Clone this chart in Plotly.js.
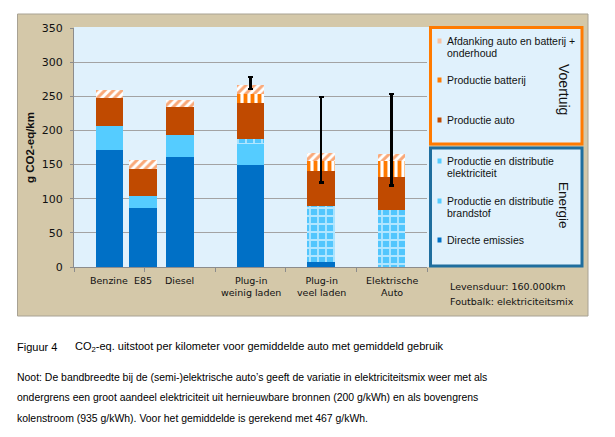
<!DOCTYPE html>
<html>
<head>
<meta charset="utf-8">
<script src="https://cdn.plot.ly/plotly-3.0.1.min.js"></script>
<style>html,body{margin:0;padding:0;background:#fff}#chart{width:615px;height:437px}</style>
</head>
<body>
<div id="chart"></div>
<script>
// ---------- DATA (g CO2-eq/km) ----------
const categories = ['Benzine', 'E85', 'Diesel', 'Plug-in<br>weinig laden', 'Plug-in<br>veel laden', 'Elektrische<br>Auto'];
const directeEmissies      = [172, 86, 161, 150, 8, 0];
const brandstof            = [35, 18, 32, 30, 0, 0];
const elektriciteit        = [0, 0, 0, 8, 82, 84];
const productieAuto        = [40, 40, 41, 52, 50, 48];
const productieBatterij    = [0, 0, 0, 14, 15, 23];
const afdanking            = [12, 12, 11, 13, 12, 11];
// error bar (electricity mix) bounds
const mixLow  = [null, null, null, 261, 124, 119];
const mixHigh = [null, null, null, 278, 249, 253];
const yTicks = [0, 50, 100, 150, 200, 250, 300, 350];

// ---------- LAYOUT HELPERS ----------
const L = 74, R = 427, T = 28, B = 267;
const PW = R - L, PH = B - T;
const px = x => (x - L) / PW;
const py = y => (B - y) / PH;
const xPos = [0, 0.48, 1, 2, 3, 4];
const barW = 0.39;
const widths = xPos.map(() => barW);

const totals = categories.map((_, i) =>
  directeEmissies[i] + brandstof[i] + elektriciteit[i] + productieAuto[i] + productieBatterij[i] + afdanking[i]);
const errPlus  = totals.map((t, i) => mixHigh[i] == null ? NaN : mixHigh[i] - t);
const errMinus = totals.map((t, i) => mixLow[i] == null ? NaN : t - mixLow[i]);

function bar(name, y, marker, extra) {
  return Object.assign({
    type: 'bar', name: name, x: xPos, y: y, width: widths,
    marker: Object.assign({line: {width: 0}}, marker),
    hoverinfo: 'name+y', showlegend: false
  }, extra || {});
}

const traces = [
  bar('Directe emissies', directeEmissies, {color: '#0070C6'}),
  bar('Productie en distributie brandstof', brandstof, {color: '#55CCFF'}),
  bar('Productie en distributie elektriciteit', elektriciteit, {
    color: '#A9E2FF',
    pattern: {shape: '+', bgcolor: '#52C6FD', fgcolor: '#B2E6FF', size: 8, solidity: 0.4}
  }),
  bar('Productie auto', productieAuto, {color: '#C04A00'}),
  bar('Productie batterij', productieBatterij, {
    color: '#FF7A00',
    pattern: {shape: '|', bgcolor: '#FFFFFF', fgcolor: '#FF7A00', size: 7, solidity: 0.55}
  }),
  bar('Afdanking auto en batterij + onderhoud', afdanking, {
    color: '#F9AE84',
    pattern: {shape: '/', bgcolor: '#FFFFFF', fgcolor: '#F9A878', size: 6, solidity: 0.5}
  }, {
    error_y: {type: 'data', symmetric: false, array: errPlus, arrayminus: errMinus,
              color: '#000000', thickness: 2.5, width: 2.5}
  })
];

// ---------- SHAPES (frame, plot bg, legend boxes, swatches) ----------
const shapes = [
  {type: 'rect', xref: 'paper', yref: 'paper', layer: 'below',
   x0: px(17.5), x1: px(588), y0: py(14), y1: py(316),
   fillcolor: '#D4C8A9', line: {color: '#A8A293', width: 1}},
  {type: 'rect', xref: 'paper', yref: 'paper', layer: 'below',
   x0: 0, x1: px(429), y0: 0, y1: py(27),
   fillcolor: '#E0F1FC', line: {width: 0}},
  {type: 'rect', xref: 'paper', yref: 'paper', layer: 'below',
   x0: px(430.5), x1: px(582), y0: py(27.5), y1: py(144),
   fillcolor: '#E0F1FC', line: {color: '#FF7A00', width: 3}},
  {type: 'rect', xref: 'paper', yref: 'paper', layer: 'below',
   x0: px(430.5), x1: px(582), y0: py(148), y1: py(266),
   fillcolor: '#E0F1FC', line: {color: '#1F6E9E', width: 3}}
];

const legendItems = [
  {lines: ['Afdanking auto en batterij +', 'onderhoud'], y: 41, color: '#F9C2A2'},
  {lines: ['Productie batterij'], y: 80, color: '#FF7A00'},
  {lines: ['Productie auto'], y: 120, color: '#C04A00'},
  {lines: ['Productie en distributie', 'elektriciteit'], y: 161, color: '#55CCFF'},
  {lines: ['Productie en distributie', 'brandstof'], y: 201, color: '#55CCFF'},
  {lines: ['Directe emissies'], y: 240, color: '#0070C6'}
];

const annotations = [];
const legFont = {family: 'Liberation Sans, Arial, sans-serif', size: 10.5, color: '#111'};
legendItems.forEach(it => {
  shapes.push({type: 'rect', xref: 'paper', yref: 'paper',
    x0: px(437.5), x1: px(441.5), y0: py(it.y + 2.5), y1: py(it.y - 2.5),
    fillcolor: it.color, line: {width: 0}});
  it.lines.forEach((ln, k) => {
    annotations.push({xref: 'paper', yref: 'paper', x: px(445), y: py(it.y + k * 11.6),
      xanchor: 'left', yanchor: 'middle', showarrow: false, text: ln, font: legFont});
  });
});

// category labels, placed through the x axis scale
categories.forEach((c, i) => annotations.push({
  xref: 'x', yref: 'paper', x: xPos[i], y: py(272.5), xanchor: 'center', yanchor: 'top',
  showarrow: false, text: c, align: 'center',
  font: {family: 'DejaVu Sans, sans-serif', size: 9.5, color: '#111'}
}));

annotations.push(
  {xref: 'paper', yref: 'paper', x: px(564), y: py(89), xanchor: 'center', yanchor: 'middle',
   textangle: 90, showarrow: false,
   text: 'Voertuig', font: {family: 'Liberation Sans, Arial, sans-serif', size: 14, color: '#111'}},
  {xref: 'paper', yref: 'paper', x: px(564), y: py(205), xanchor: 'center', yanchor: 'middle',
   textangle: 90, showarrow: false,
   text: 'Energie', font: {family: 'Liberation Sans, Arial, sans-serif', size: 13.5, color: '#111'}},
  {xref: 'paper', yref: 'paper', x: px(448), y: py(286), xanchor: 'left', yanchor: 'middle', showarrow: false,
   text: 'Levensduur: 160.000km', font: {family: 'DejaVu Sans, sans-serif', size: 9.5, color: '#111'}},
  {xref: 'paper', yref: 'paper', x: px(448), y: py(301), xanchor: 'left', yanchor: 'middle', showarrow: false,
   text: 'Foutbalk: elektriciteitsmix', font: {family: 'DejaVu Sans, sans-serif', size: 9.5, color: '#111'}}
);

const capFont = {family: 'Liberation Sans, Arial, sans-serif', size: 11, color: '#000'};
const notFont = {family: 'Liberation Sans, Arial, sans-serif', size: 10.45, color: '#000'};
const captions = [
  {x: 15, y: 347, t: 'Figuur 4', f: capFont},
  {x: 73, y: 347, t: 'CO<sub>2</sub>-eq. uitstoot per kilometer voor gemiddelde auto met gemiddeld gebruik', f: capFont},
  {x: 15, y: 377, t: 'Noot: De bandbreedte bij de (semi-)elektrische auto’s geeft de variatie in elektriciteitsmix weer met als', f: notFont},
  {x: 15, y: 397, t: 'ondergrens een groot aandeel elektriciteit uit hernieuwbare bronnen (200 g/kWh) en als bovengrens', f: notFont},
  {x: 15, y: 418, t: 'kolenstroom (935 g/kWh). Voor het gemiddelde is gerekend met 467 g/kWh.', f: notFont}
];
captions.forEach(c => annotations.push({xref: 'paper', yref: 'paper', x: px(c.x), y: py(c.y),
  xanchor: 'left', yanchor: 'middle', showarrow: false, text: c.t, font: c.f}));

const boundaries = [-0.5, 0.5, 1.5, 2.5, 3.5, 4.5];

const layout = {
  width: 615, height: 437,
  margin: {l: L, r: 615 - R, t: T, b: 437 - B, pad: 0},
  paper_bgcolor: '#FFFFFF', plot_bgcolor: '#E0F1FC',
  barmode: 'stack', bargap: 0,
  font: {family: 'DejaVu Sans, sans-serif', color: '#111'},
  xaxis: {
    type: 'linear', range: [-0.5, 4.5], fixedrange: true,
    tickvals: boundaries, showticklabels: false,
    ticks: 'outside', ticklen: 4, tickcolor: '#8C8C8C', tickwidth: 1,
    showline: true, linecolor: '#8C8C8C', linewidth: 1,
    showgrid: false, zeroline: false
  },
  yaxis: {
    range: [0, 350], tickvals: yTicks, fixedrange: true,
    ticks: 'outside', ticklen: 3, tickcolor: '#8C8C8C',
    showline: true, linecolor: '#8C8C8C', linewidth: 1,
    showgrid: true, gridcolor: '#A3A3A3', gridwidth: 1, zeroline: false,
    ticklabelstandoff: 5,
    tickfont: {family: 'DejaVu Sans, sans-serif', size: 11, color: '#111'},
    title: {text: 'g CO2-eq/km', standoff: 4,
            font: {family: 'Liberation Sans, Arial, sans-serif', size: 11.5, color: '#111', weight: 'bold'}}
  },
  shapes: shapes,
  annotations: annotations
};

Plotly.newPlot('chart', traces, layout, {displayModeBar: false, staticPlot: true});
</script>
</body>
</html>
